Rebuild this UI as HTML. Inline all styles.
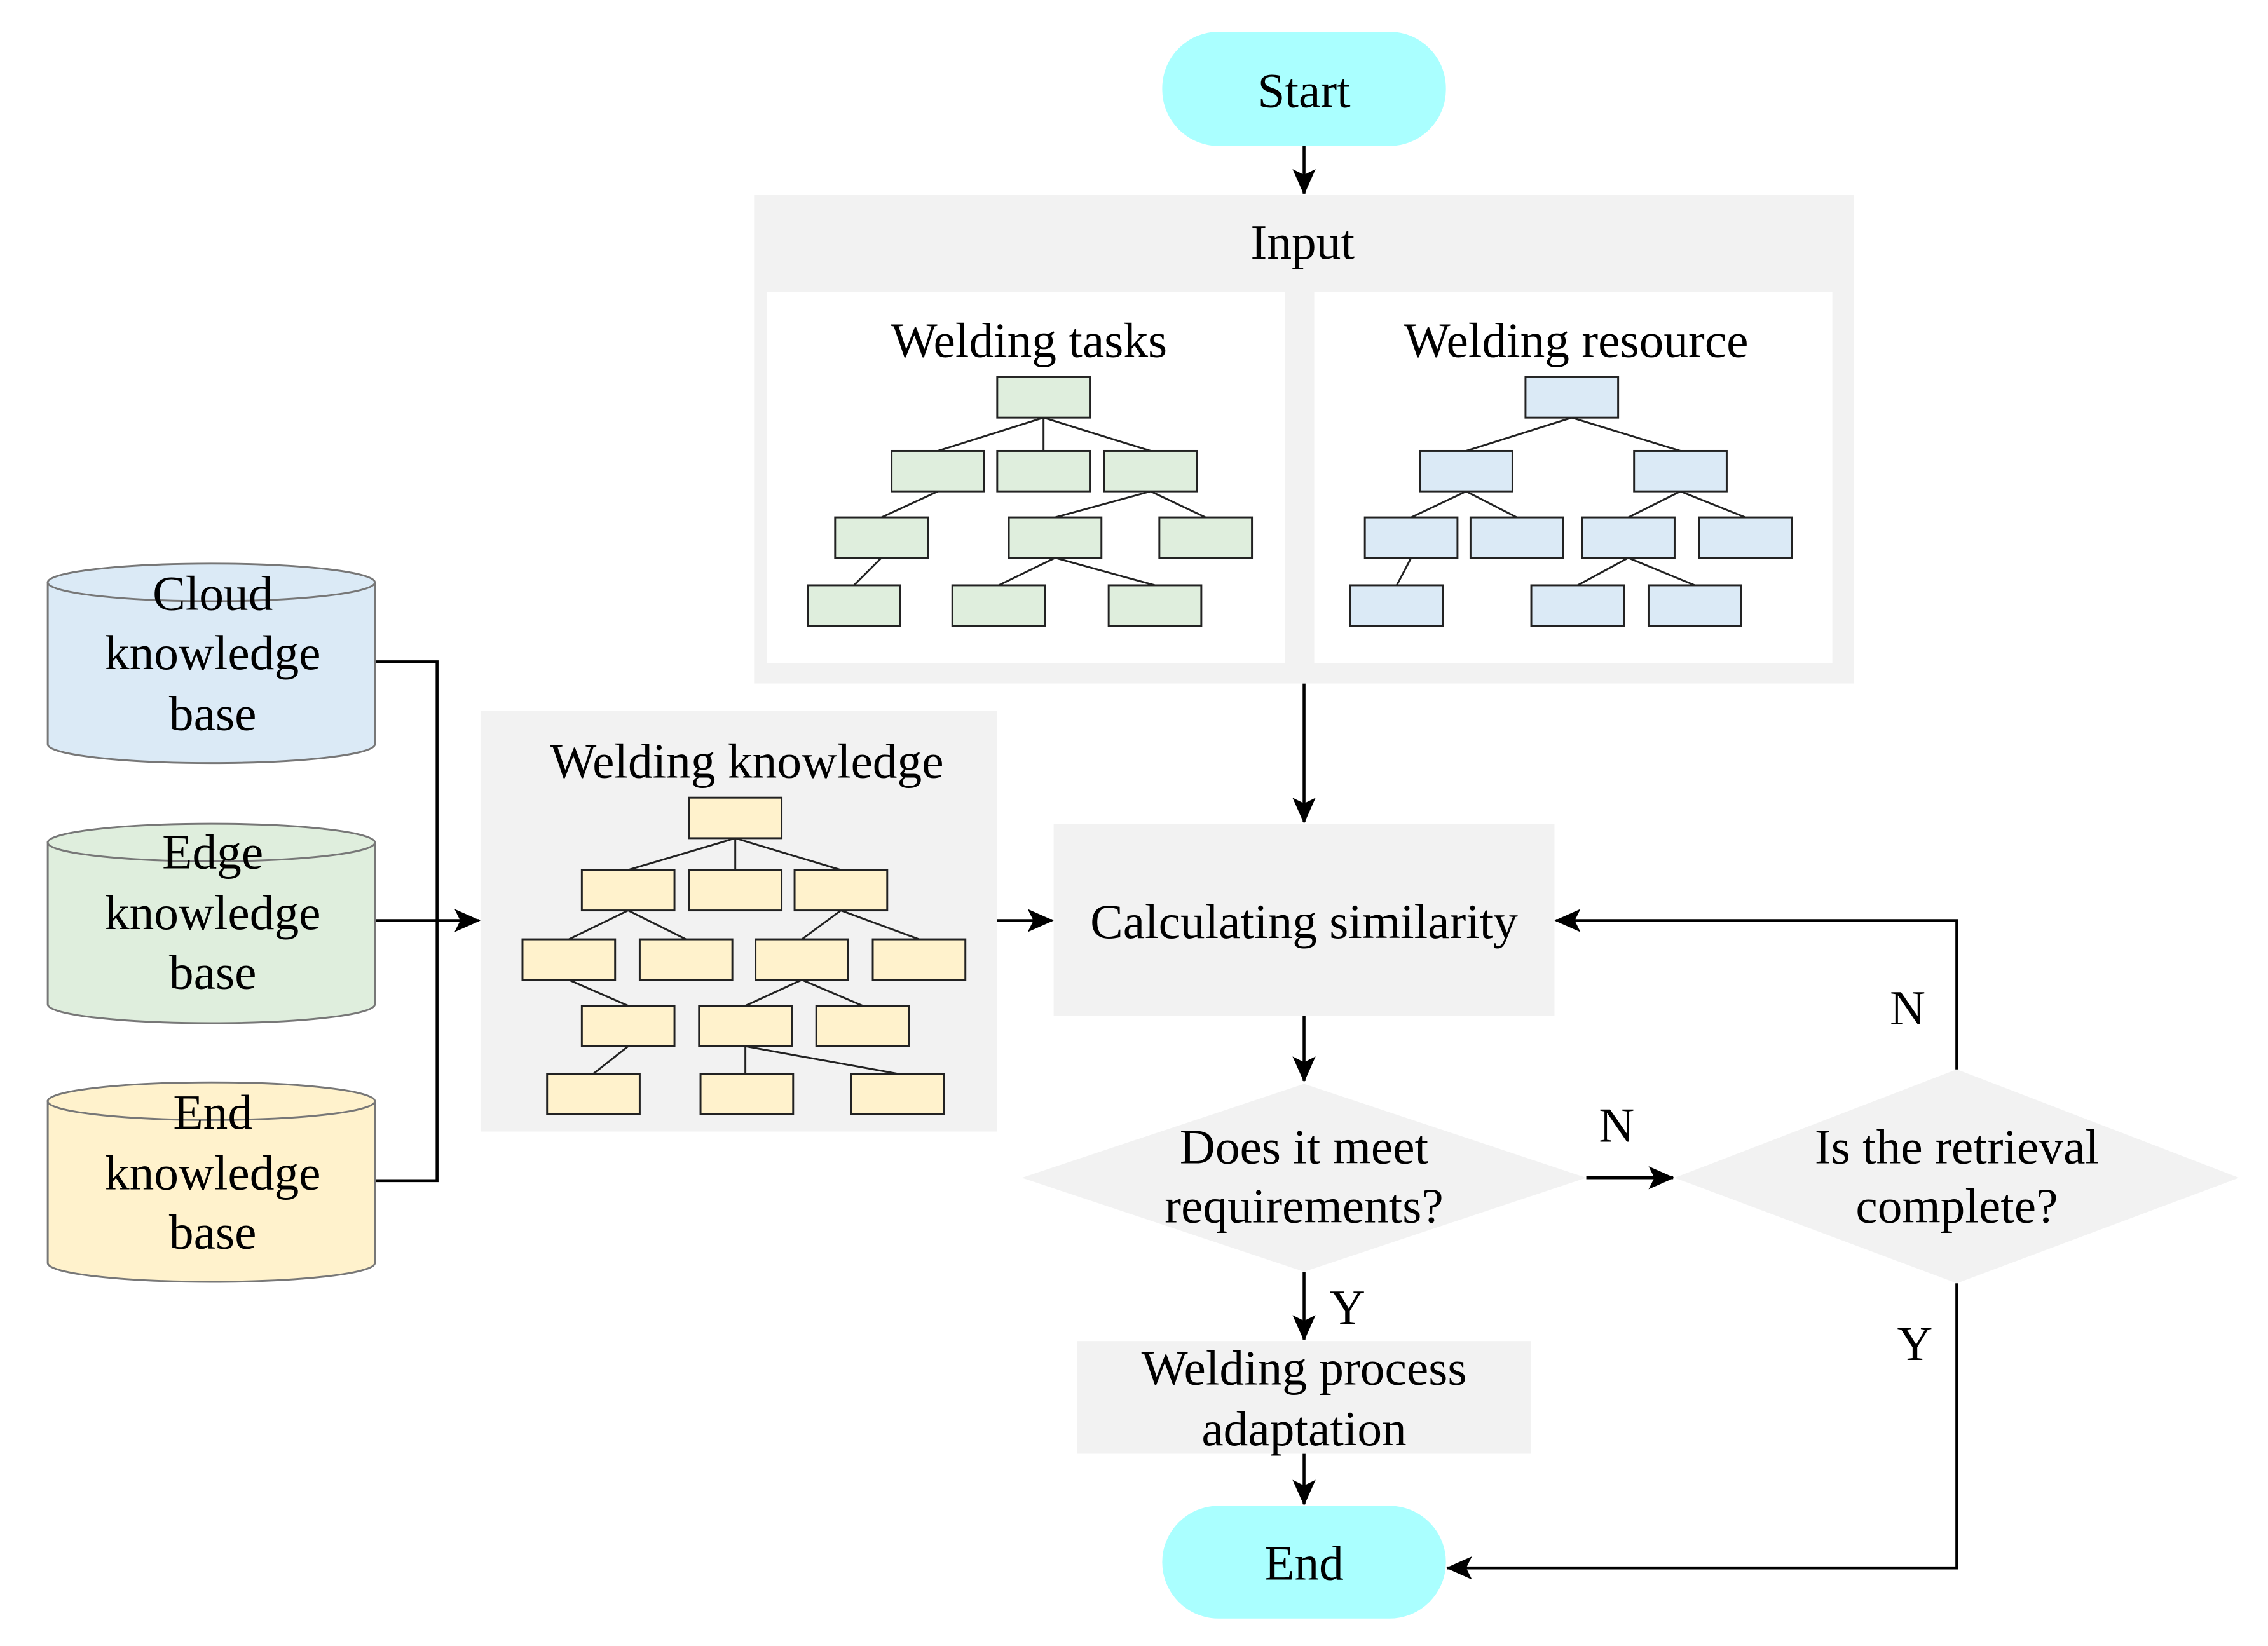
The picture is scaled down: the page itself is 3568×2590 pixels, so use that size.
<!DOCTYPE html>
<html><head><style>html,body{margin:0;padding:0;background:#fff}svg{display:block}</style></head>
<body>
<svg xmlns="http://www.w3.org/2000/svg" width="3568" height="2590" viewBox="0 0 1567 1139" preserveAspectRatio="none" font-family="Liberation Serif, serif" font-size="34">
<defs>
<marker id="a" markerWidth="18" markerHeight="16" refX="17" refY="8" orient="auto" markerUnits="userSpaceOnUse" viewBox="0 0 18 16">
<path d="M0,0 L18,8 L0,16 L4,8 Z" fill="#000"/></marker>
</defs>
<g stroke="#000" stroke-width="2" fill="none">
<line x1="901" y1="101" x2="901" y2="134" marker-end="url(#a)"/>
<line x1="901" y1="473" x2="901" y2="569" marker-end="url(#a)"/>
<line x1="689" y1="637" x2="727" y2="637" marker-end="url(#a)"/>
<line x1="901" y1="703" x2="901" y2="748" marker-end="url(#a)"/>
<line x1="1096" y1="815" x2="1156" y2="815" marker-end="url(#a)"/>
<polyline points="1352,740 1352,637 1075,637" marker-end="url(#a)"/>
<polyline points="1352,888 1352,1085 1000,1085" marker-end="url(#a)"/>
<line x1="901" y1="880" x2="901" y2="927" marker-end="url(#a)"/>
<line x1="901" y1="1006" x2="901" y2="1041" marker-end="url(#a)"/>
<polyline points="259,458 302,458 302,817 259,817"/>
<line x1="259" y1="637" x2="331" y2="637" marker-end="url(#a)"/>
</g>
<rect x="803" y="22" width="196" height="79" rx="39" fill="#aaffff"/>
<text x="901" y="74" text-anchor="middle">Start</text>
<rect x="803" y="1042" width="196" height="78" rx="39" fill="#aaffff"/>
<text x="901" y="1093" text-anchor="middle">End</text>
<rect x="521" y="135" width="760" height="338" fill="#f2f2f2"/>
<text x="900" y="179" text-anchor="middle">Input</text>
<rect x="530" y="202" width="358" height="257" fill="#fff"/>
<rect x="908" y="202" width="358" height="257" fill="#fff"/>
<text x="711" y="247" text-anchor="middle">Welding tasks</text>
<text x="1089" y="247" text-anchor="middle">Welding resource</text>
<g stroke="#222" stroke-width="1.3">
<path d="M721,289L648,312M721,289L721,312M721,289L795,312M648,340L609,358M795,340L729,358M795,340L833,358M609,386L590,405M729,386L690,405M729,386L798,405"/>
<path d="M1086,289L1013,312M1086,289L1161,312M1013,340L975,358M1013,340L1048,358M1161,340L1125,358M1161,340L1206,358M975,386L965,405M1125,386L1090,405M1125,386L1171,405"/>
</g>
<g fill="#dfeedd" stroke="#222" stroke-width="1.3">
<rect x="689" y="261" width="64" height="28"/><rect x="616" y="312" width="64" height="28"/><rect x="689" y="312" width="64" height="28"/><rect x="763" y="312" width="64" height="28"/>
<rect x="577" y="358" width="64" height="28"/><rect x="697" y="358" width="64" height="28"/><rect x="801" y="358" width="64" height="28"/>
<rect x="558" y="405" width="64" height="28"/><rect x="658" y="405" width="64" height="28"/><rect x="766" y="405" width="64" height="28"/>
</g>
<g fill="#dbeaf6" stroke="#222" stroke-width="1.3">
<rect x="1054" y="261" width="64" height="28"/><rect x="981" y="312" width="64" height="28"/><rect x="1129" y="312" width="64" height="28"/>
<rect x="943" y="358" width="64" height="28"/><rect x="1016" y="358" width="64" height="28"/><rect x="1093" y="358" width="64" height="28"/><rect x="1174" y="358" width="64" height="28"/>
<rect x="933" y="405" width="64" height="28"/><rect x="1058" y="405" width="64" height="28"/><rect x="1139" y="405" width="64" height="28"/>
</g>
<rect x="332" y="492" width="357" height="291" fill="#f2f2f2"/>
<text x="516" y="538" text-anchor="middle">Welding knowledge</text>
<g stroke="#222" stroke-width="1.3">
<path d="M508,580L434,602M508,580L508,602M508,580L581,602M434,630L393,650M434,630L474,650M581,630L554,650M581,630L635,650M393,678L434,696M554,678L515,696M554,678L596,696M434,724L410,743M515,724L515,743M515,724L620,743"/>
</g>
<g fill="#fff2cc" stroke="#222" stroke-width="1.3">
<rect x="476" y="552" width="64" height="28"/>
<rect x="402" y="602" width="64" height="28"/><rect x="476" y="602" width="64" height="28"/><rect x="549" y="602" width="64" height="28"/>
<rect x="361" y="650" width="64" height="28"/><rect x="442" y="650" width="64" height="28"/><rect x="522" y="650" width="64" height="28"/><rect x="603" y="650" width="64" height="28"/>
<rect x="402" y="696" width="64" height="28"/><rect x="483" y="696" width="64" height="28"/><rect x="564" y="696" width="64" height="28"/>
<rect x="378" y="743" width="64" height="28"/><rect x="484" y="743" width="64" height="28"/><rect x="588" y="743" width="64" height="28"/>
</g>
<rect x="728" y="570" width="346" height="133" fill="#f2f2f2"/>
<text x="901" y="649" text-anchor="middle">Calculating similarity</text>
<polygon points="901,750 1096,815 901,880 706,815" fill="#f2f2f2"/>
<text x="901" y="805" text-anchor="middle">Does it meet</text>
<text x="901" y="846" text-anchor="middle">requirements?</text>
<polygon points="1352,740 1547,815 1352,888 1157,815" fill="#f2f2f2"/>
<text x="1352" y="805" text-anchor="middle">Is the retrieval</text>
<text x="1352" y="846" text-anchor="middle">complete?</text>
<rect x="744" y="928" width="314" height="78" fill="#f2f2f2"/>
<text x="901" y="958" text-anchor="middle">Welding process</text>
<text x="901" y="1000" text-anchor="middle">adaptation</text>
<text x="1117" y="790" text-anchor="middle">N</text>
<text x="1318" y="709" text-anchor="middle">N</text>
<text x="1323" y="941" text-anchor="middle">Y</text>
<text x="931" y="916" text-anchor="middle">Y</text>
<g stroke="#777" stroke-width="1.3">
<path d="M33,403 V515 A113,13 0 0 0 259,515 V403 Z" fill="#dbeaf6"/>
<ellipse cx="146" cy="403" rx="113" ry="13" fill="#dbeaf6"/>
<path d="M33,583 V695 A113,13 0 0 0 259,695 V583 Z" fill="#dfeedd"/>
<ellipse cx="146" cy="583" rx="113" ry="13" fill="#dfeedd"/>
<path d="M33,762 V874 A113,13 0 0 0 259,874 V762 Z" fill="#fff2cc"/>
<ellipse cx="146" cy="762" rx="113" ry="13" fill="#fff2cc"/>
</g>
<g text-anchor="middle">
<text x="147" y="422">Cloud</text><text x="147" y="463">knowledge</text><text x="147" y="505">base</text>
<text x="147" y="601">Edge</text><text x="147" y="643">knowledge</text><text x="147" y="684">base</text>
<text x="147" y="781">End</text><text x="147" y="823">knowledge</text><text x="147" y="864">base</text>
</g>
</svg>
</body></html>
